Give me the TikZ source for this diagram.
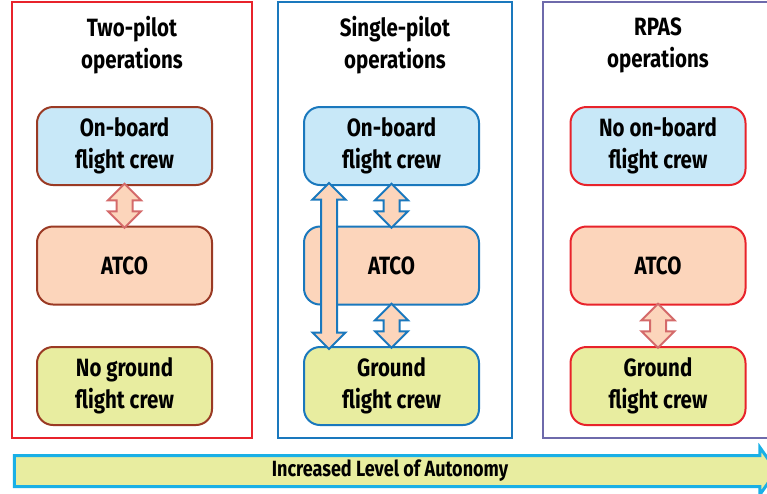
\documentclass[tikz,border=0pt]{standalone}
\usepackage{fontspec}
\setmainfont{Fira Sans}[FakeStretch=0.82]
\usepackage{tikz}
\usetikzlibrary{shapes.arrows, positioning, calc}
\definecolor{crewcolor}{RGB}{200, 232, 248}
\definecolor{atcocolor}{RGB}{252, 213, 187}
\definecolor{groundcolor}{RGB}{232, 237, 160}
\definecolor{twocolor}{RGB}{232, 35, 43}
\definecolor{singlecolor}{RGB}{26, 120, 189}
\definecolor{rpascolor}{RGB}{110, 106, 171}
\definecolor{browncolor}{RGB}{154, 58, 36}
\definecolor{salmoncolor}{RGB}{212, 106, 106}
\definecolor{autocolor}{RGB}{26, 176, 230}
\begin{document}
\begin{tikzpicture}[
    x=1pt, y=-1pt,
    panel/.style={draw, line width=2.5pt, minimum width=#1, minimum height=436pt, inner sep=0pt},
    agent/.style={draw, line width=2pt, rounded corners=16pt, minimum width=175pt, minimum height=78pt, inner sep=0pt, align=center, font=\fontsize{25}{32}\selectfont\bfseries},
    heading/.style={align=center, font=\fontsize{25}{32}\selectfont\bfseries},
    link/.style={double arrow, draw, line width=2pt, fill=atcocolor, inner sep=7pt, outer sep=0pt, double arrow head extend=8.5pt, shape border rotate=90, minimum height=#1},
    autonomy/.style={single arrow, draw=autocolor, line width=3pt, fill=groundcolor, text height=14pt, text depth=4pt, inner ysep=5pt, single arrow head extend=8pt, single arrow tip angle=110, minimum height=762pt, font=\fontsize{22}{24}\selectfont\bfseries}
]
    \useasboundingbox (0,0) rectangle (767,493);

    % Two-pilot operations
    \node[panel=240pt, draw=twocolor] (two) at (132, 220) {};
    \node[heading] at (132, 45) {Two-pilot\\operations};
    \node[agent, draw=browncolor, fill=crewcolor] (crew1) at (124.5, 146) {On-board\\flight crew};
    \node[agent, draw=browncolor, fill=atcocolor] (atco1) at (124.5, 265.5) {ATCO};
    \node[agent, draw=browncolor, fill=groundcolor] (ground1) at (124.5, 386) {No ground\\flight crew};
    \node[link=44pt, draw=salmoncolor] (l1) at ($(crew1.south)!0.5!(atco1.north)$) {};

    % Single-pilot operations
    \node[panel=234pt, draw=singlecolor] (single) at (395, 220) {};
    \node[heading] at (395, 45) {Single-pilot\\operations};
    \node[agent, draw=singlecolor, fill=crewcolor] (crew2) at (391.5, 146) {On-board\\flight crew};
    \node[agent, draw=singlecolor, fill=atcocolor] (atco2) at (391.5, 265.5) {ATCO};
    \node[agent, draw=singlecolor, fill=groundcolor] (ground2) at (391.5, 386) {Ground\\flight crew};
    \node[link=44pt, draw=singlecolor] (l2) at ($(crew2.south)!0.5!(atco2.north)$) {};
    \node[link=44pt, draw=singlecolor] (l3) at ($(atco2.south)!0.5!(ground2.north)$) {};
    \node[link=166pt, draw=singlecolor] (l4) at ($(crew2.south west)!0.5!(ground2.north west)+(26,0)$) {};

    % RPAS operations
    \node[panel=232pt, draw=rpascolor] (rpas) at (659, 220) {};
    \node[heading] at (658, 45) {RPAS\\operations};
    \node[agent, draw=twocolor, fill=crewcolor] (crew3) at (658, 146) {No on-board\\flight crew};
    \node[agent, draw=twocolor, fill=atcocolor] (atco3) at (658, 265.5) {ATCO};
    \node[agent, draw=twocolor, fill=groundcolor] (ground3) at (658, 386) {Ground\\flight crew};
    \node[link=44pt, draw=salmoncolor] (l5) at ($(atco3.south)!0.5!(ground3.north)$) {};

    % Level of autonomy
    \node[autonomy] (auto) at (390, 471) {Increased Level of Autonomy};

\end{tikzpicture}
\end{document}
